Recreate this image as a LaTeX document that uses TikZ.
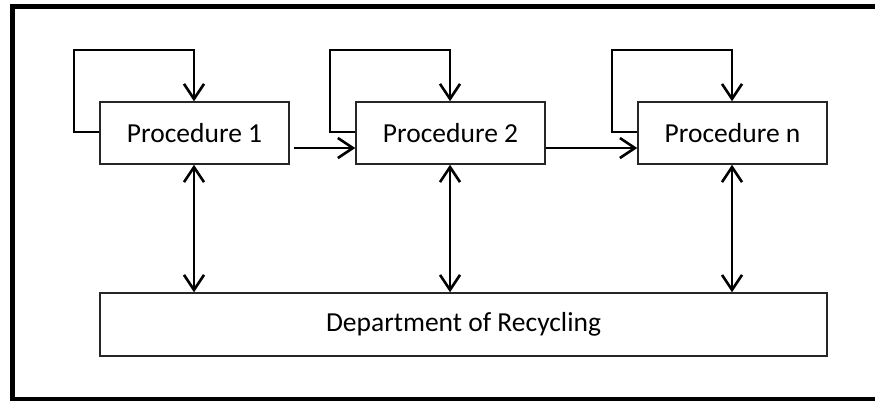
\documentclass[tikz,border=0pt]{standalone}
\usepackage{fontspec}
\setmainfont{Carlito}
\usetikzlibrary{arrows.meta}
\begin{document}
\begin{tikzpicture}[x=1pt,y=-1pt,
  box/.style={draw=black!85, line width=1.5pt, rectangle, inner sep=0pt,
    font=\fontsize{27.5}{30}\selectfont},
  procbox/.style={box, minimum width=189pt, minimum height=62pt},
  link/.style={line width=2.6pt, -{Straight Barb[length=15pt,width=20pt,line width=2.6pt]}},
  twoway/.style={line width=2.6pt, {Straight Barb[length=15pt,width=20pt,line width=2.6pt]}-{Straight Barb[length=15pt,width=20pt,line width=2.6pt]}}
]
\useasboundingbox (0,0) rectangle (875,400);
\begin{scope}
  \clip (0,0) rectangle (875,400);
  % outer frame
  \draw[line width=5pt] (12,6) rectangle (885,399.5);
\end{scope}

% procedure boxes
\node[procbox] (p1) at (194.5,133) {Procedure 1};
\node[procbox] (p2) at (450.5,133) {Procedure 2};
\node[procbox] (pn) at (732.5,133) {Procedure n};

% department box
\node[box, minimum width=727pt, minimum height=63pt] (dep) at (463.5,324.5) {Department of Recycling};

% self loops above each procedure
\draw[link] (p1.west |- 0,132) -- (74,132) -- (74,50) -- (194,50) -- (p1.north -| 194,0);
\draw[link] (p2.west |- 0,132) -- (330,132) -- (330,50) -- (450,50) -- (p2.north -| 450,0);
\draw[link] (pn.west |- 0,132) -- (612,132) -- (612,50) -- (732,50) -- (pn.north -| 732,0);

% flow between procedures
\draw[link] ([xshift=4pt]p1.east |- 0,148) -- (p2.west |- 0,148);
\draw[link] (p2.east |- 0,148) -- (pn.west |- 0,148);

% exchange with the department
\draw[twoway] (p1.south -| 194,0) -- (dep.north -| 194,0);
\draw[twoway] (p2.south -| 450,0) -- (dep.north -| 450,0);
\draw[twoway] (pn.south -| 732,0) -- (dep.north -| 732,0);
\end{tikzpicture}
\end{document}
